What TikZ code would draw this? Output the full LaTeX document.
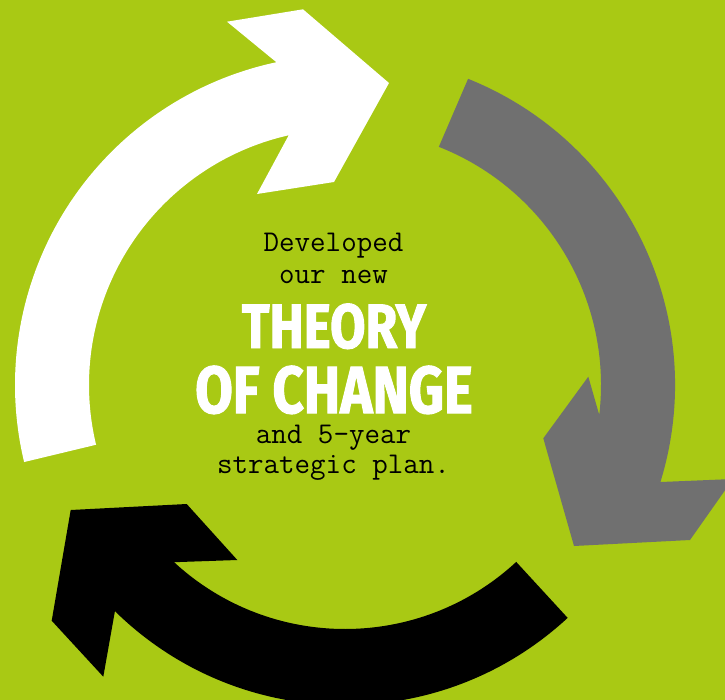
\documentclass[tikz,border=0pt]{standalone}
\usepackage{fontspec}
\usepackage{xcolor}
\newfontfamily\stamp{Fira Sans}[FakeStretch=0.82,BoldFeatures={FakeBold=1.5}]
\definecolor{lime}{RGB}{169,201,20}
\definecolor{slate}{RGB}{112,112,112}

\begin{document}
\begin{tikzpicture}[x=0.75pt,y=0.75pt,yscale=-1,xscale=1,
  small text/.style={font=\ttfamily\fontsize{22.6}{26}\selectfont,inner sep=0pt,anchor=base},
  big text/.style={text=white,inner sep=0pt,anchor=base}]
%set diagram left start at 0, and has height of 700
\useasboundingbox (0,0) rectangle (725,700);
\fill [lime] (0,0) rectangle (725,700);
\clip (0,0) rectangle (725,700);

%Shape: Arc arrow [white, left]
\fill [white] (24.12,462.04) arc [start angle=166.5,end angle=258,radius=330] -- (227,21.7) -- (303,9.3) -- (389,83) -- (334,182) -- (257,194) -- (288.72,135.26) arc [start angle=257.3,end angle=166.5,radius=256] -- cycle ;
%Shape: Arc arrow [gray, right]
\fill [slate] (468.09,78.81) arc [start angle=-68.1,end angle=17.1,radius=330] -- (733,479) -- (690,540) -- (574,546) -- (543.3,438.3) -- (588.3,376.7) -- (599.25,414.87) arc [start angle=6.7,end angle=-68.5,radius=256] -- cycle ;
%Shape: Arc arrow [black, bottom]
\fill [black] (567.65,617.86) arc [start angle=47.2,end angle=134.5,radius=328] -- (103.3,676.7) -- (51.7,620.7) -- (70.7,510) -- (186.7,504) -- (237.3,560) -- (174.11,562.2) arc [start angle=132.7,end angle=47.2,radius=252] -- cycle ;

% Text Node
\draw (333.5,251.7) node [small text] (developed) {Developed};
% Text Node
\draw (333.5,283.3) node [small text] (ournew) {our new};
% Text Node
\draw (334,348) node [big text,font=\stamp\bfseries\fontsize{47}{50}\selectfont] (theory) {THEORY};
% Text Node
\draw (334,413) node [big text,font=\stamp\bfseries\fontsize{50}{54}\selectfont] (change) {OF CHANGE};
% Text Node
\draw (333.5,443.3) node [small text] (fiveyear) {and 5-year};
% Text Node
\draw (333.5,473.3) node [small text] (plan) {strategic plan.};

\end{tikzpicture}
\end{document}
